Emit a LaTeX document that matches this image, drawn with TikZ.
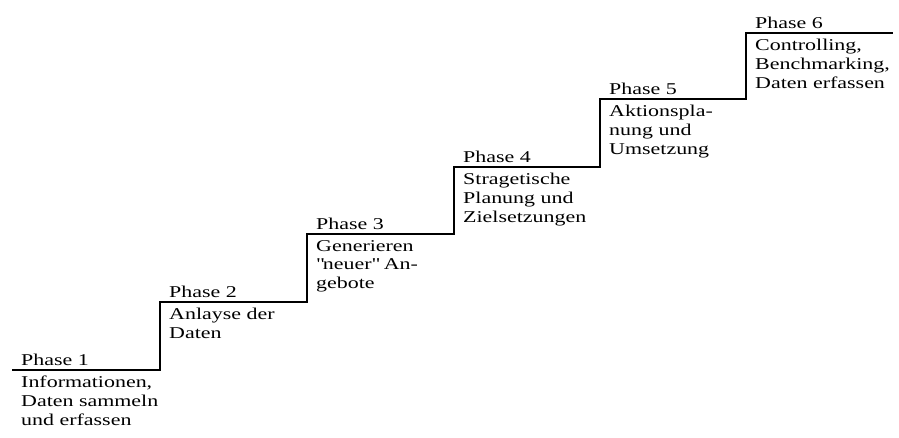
\documentclass[tikz,border=0pt]{standalone}
\usepackage{fontspec}
\setmainfont{Liberation Serif}[FakeStretch=1.33]
\usetikzlibrary{positioning}

\begin{document}
\begin{tikzpicture}[x=1pt,y=-1pt,
    phase/.style={inner sep=0pt,font=\fontsize{16.5}{18.7}\selectfont},
    descr/.style={inner sep=0pt,align=left,font=\fontsize{16.5}{18.7}\selectfont}]
    \useasboundingbox (0,0) rectangle (899,437);

    \coordinate (s1) at (12,370);
    \coordinate (s2) at (160,302);
    \coordinate (s3) at (307,234);
    \coordinate (s4) at (454,167);
    \coordinate (s5) at (600,99);
    \coordinate (s6) at (746,33);
    \coordinate (e) at (893,33);

    \draw[line width=1.3pt] (s1) -| (s2) -| (s3) -| (s4) -| (s5) -| (s6) -- (e);

    \node[phase, above right=4pt and 9pt of s1] (p1) {Phase 1};
    \node[phase, above right=4pt and 9pt of s2] (p2) {Phase 2};
    \node[phase, above right=4pt and 9pt of s3] (p3) {Phase 3};
    \node[phase, above right=4pt and 9pt of s4] (p4) {Phase 4};
    \node[phase, above right=4pt and 9pt of s5] (p5) {Phase 5};
    \node[phase, above right=4pt and 9pt of s6] (p6) {Phase 6};

    \node[descr, below right=6pt and 9pt of s1] (d1) {Informationen,\\Daten sammeln\\und erfassen};
    \node[descr, below right=6pt and 9pt of s2] (d2) {Anlayse der\\Daten};
    \node[descr, below right=6pt and 9pt of s3] (d3) {Generieren\\\textquotedbl neuer\textquotedbl{} An-\\gebote};
    \node[descr, below right=6pt and 9pt of s4] (d4) {Stragetische\\Planung und\\Zielsetzungen};
    \node[descr, below right=6pt and 9pt of s5] (d5) {Aktionspla-\\nung und\\Umsetzung};
    \node[descr, below right=6pt and 9pt of s6] (d6) {Controlling,\\Benchmarking,\\Daten erfassen};
  \end{tikzpicture}
\end{document}
